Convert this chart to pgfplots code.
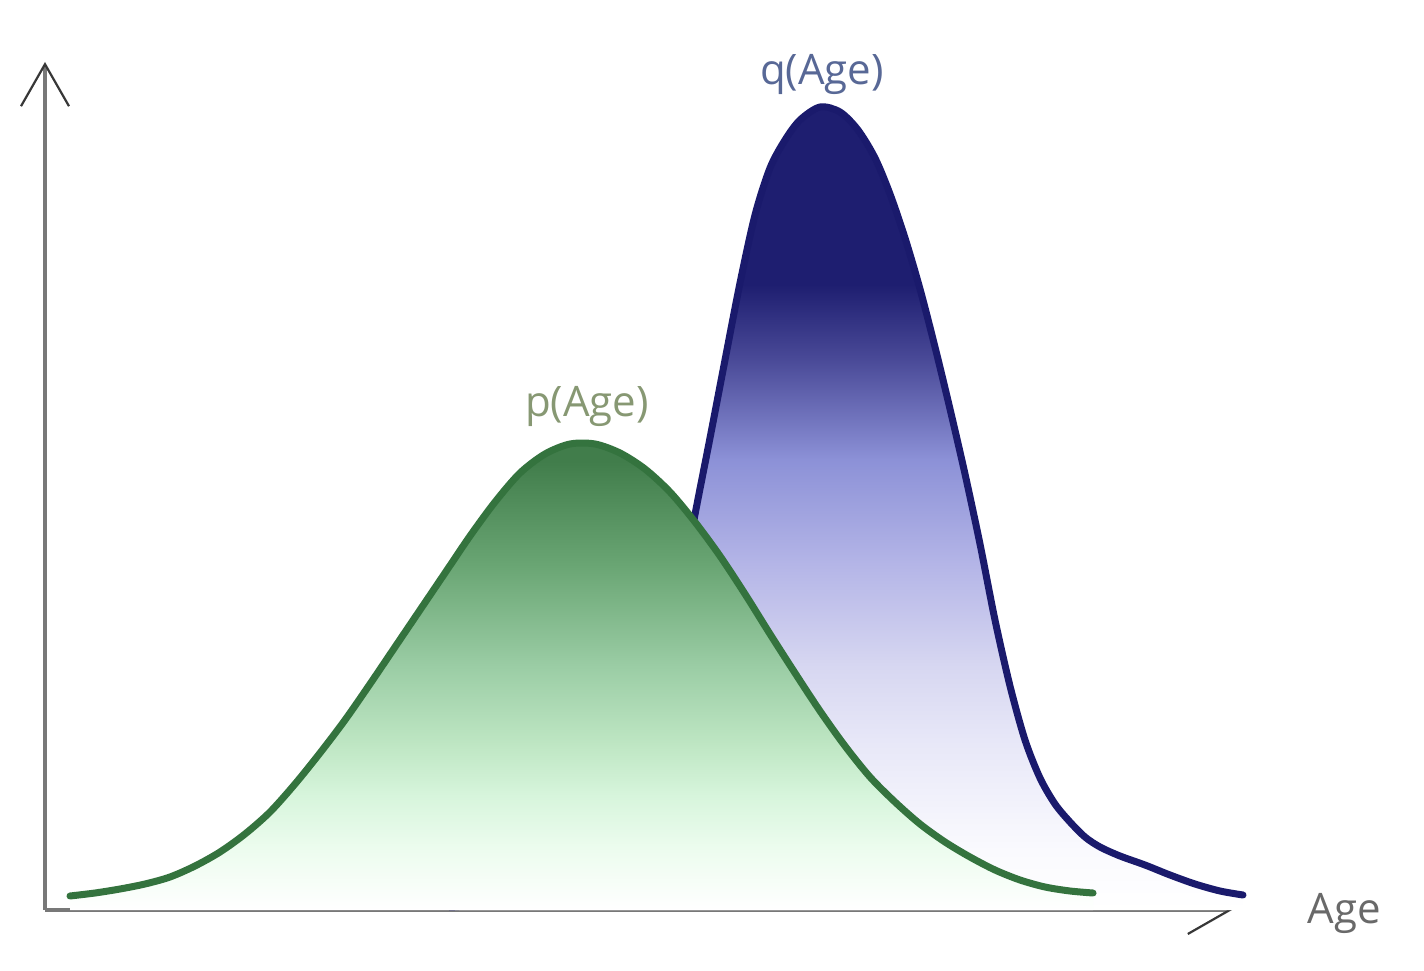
\documentclass[border=0pt]{standalone}
\usepackage{pgfplots}
\pgfplotsset{compat=1.18}
\usepackage{fontspec}
\setmainfont{Open Sans}
\usetikzlibrary{arrows.meta}

\definecolor{gline}{RGB}{52,115,62}
\definecolor{bline}{RGB}{26,26,108}
\definecolor{axgray}{RGB}{120,120,120}
\definecolor{arrgray}{RGB}{55,55,55}
\definecolor{qlab}{RGB}{88,104,150}
\definecolor{plab}{RGB}{135,152,115}
\definecolor{agelab}{RGB}{105,105,105}

\definecolor{b1}{RGB}{250,250,254}
\definecolor{b2}{RGB}{232,232,248}
\definecolor{b3}{RGB}{215,215,241}
\definecolor{b4}{RGB}{180,181,231}
\definecolor{b5}{RGB}{140,145,215}
\definecolor{b6}{RGB}{72,72,150}
\definecolor{b7}{RGB}{30,30,112}

\definecolor{g1}{RGB}{236,252,238}
\definecolor{g2}{RGB}{215,245,220}
\definecolor{g3}{RGB}{190,230,195}
\definecolor{g4}{RGB}{155,205,165}
\definecolor{g5}{RGB}{105,165,115}
\definecolor{g6}{RGB}{65,125,75}

\pgfdeclareverticalshading{blueshade}{100bp}{color(0bp)=(white); color(25bp)=(white); color(28.7bp)=(b1); color(35.3bp)=(b2); color(40.1bp)=(b3); color(46.5bp)=(b4); color(53bp)=(b5); color(59.4bp)=(b6); color(63.9bp)=(b7); color(100bp)=(b7)}
\pgfdeclareverticalshading{greenshade}{100bp}{color(0bp)=(white); color(25bp)=(white); color(31.7bp)=(g1); color(37.2bp)=(g2); color(42.8bp)=(g3); color(51bp)=(g4); color(62bp)=(g5); color(73bp)=(g6); color(100bp)=(g6)}

% data: x = pixel column, y = height above the x axis (pixels)
\pgfplotstableread{
x y
450 3
520 10
580 35
620 90
650 170
672 270
693 385
710 472
725 550
740 627
755 695
770 742
785 770
800 790
820 803
840 798
858 780
875 752
890 716
905 672
920 621
935 563
950 501
965 436
980 366
995 290
1010 224
1025 170
1040 132
1055 106
1070 88
1085 73
1100 63
1120 54
1145 45
1170 35
1195 26
1220 19
1243 15
}\qdata

\pgfplotstableread{
x y
70 14
95 17
120 21
145 26
170 33
195 44
220 58
245 76
270 98
295 126
320 157
345 190
370 226
395 263
420 300
445 337
470 374
495 408
520 437
545 456
570 466
595 466
620 457
645 441
670 418
695 388
720 354
745 316
770 276
795 237
820 199
845 164
870 133
895 108
920 86
945 68
970 53
995 40
1020 30
1045 23
1070 19
1093 17
}\pdata

\begin{document}
\begin{tikzpicture}
\begin{axis}[
  at={(0,0)}, anchor=south west,
  scale only axis,
  width=593.5pt, height=424pt,
  xmin=45, xmax=1232, ymin=0, ymax=848,
  axis lines=left,
  axis line style={draw=axgray, line width=1.6pt,
    -{Straight Barb[length=21pt,width=24pt,line width=1.1pt,color=arrgray]}},
  x axis line style={line width=1.6pt},
  y axis line style={line width=1.6pt},
  xtick=\empty, ytick=\empty,
  clip=false,
]
% q(Age)
\addplot[draw=none, shade, shading=blueshade, smooth] table[x=x,y=y] {\qdata} \closedcycle;
\addplot[draw=bline, line width=3.5pt, line cap=round, line join=round, smooth] table[x=x,y=y] {\qdata};
% p(Age)
\addplot[draw=none, shade, shading=greenshade, smooth] table[x=x,y=y] {\pdata} \closedcycle;
\addplot[draw=gline, line width=3.5pt, line cap=round, line join=round, smooth] table[x=x,y=y] {\pdata};

\node[anchor=base, text=qlab, font=\fontsize{21}{25}\selectfont] at (axis cs:822,825) {q(Age)};
\node[anchor=base, text=plab, font=\fontsize{21}{25}\selectfont] at (axis cs:587,493) {p(Age)};
\node[anchor=base, text=agelab, font=\fontsize{21}{25}\selectfont] at (axis cs:1344,-13) {Age};
\end{axis}
\pgfresetboundingbox
\useasboundingbox (-22.5pt,-30pt) rectangle (689.5pt,455pt);
\end{tikzpicture}
\end{document}
